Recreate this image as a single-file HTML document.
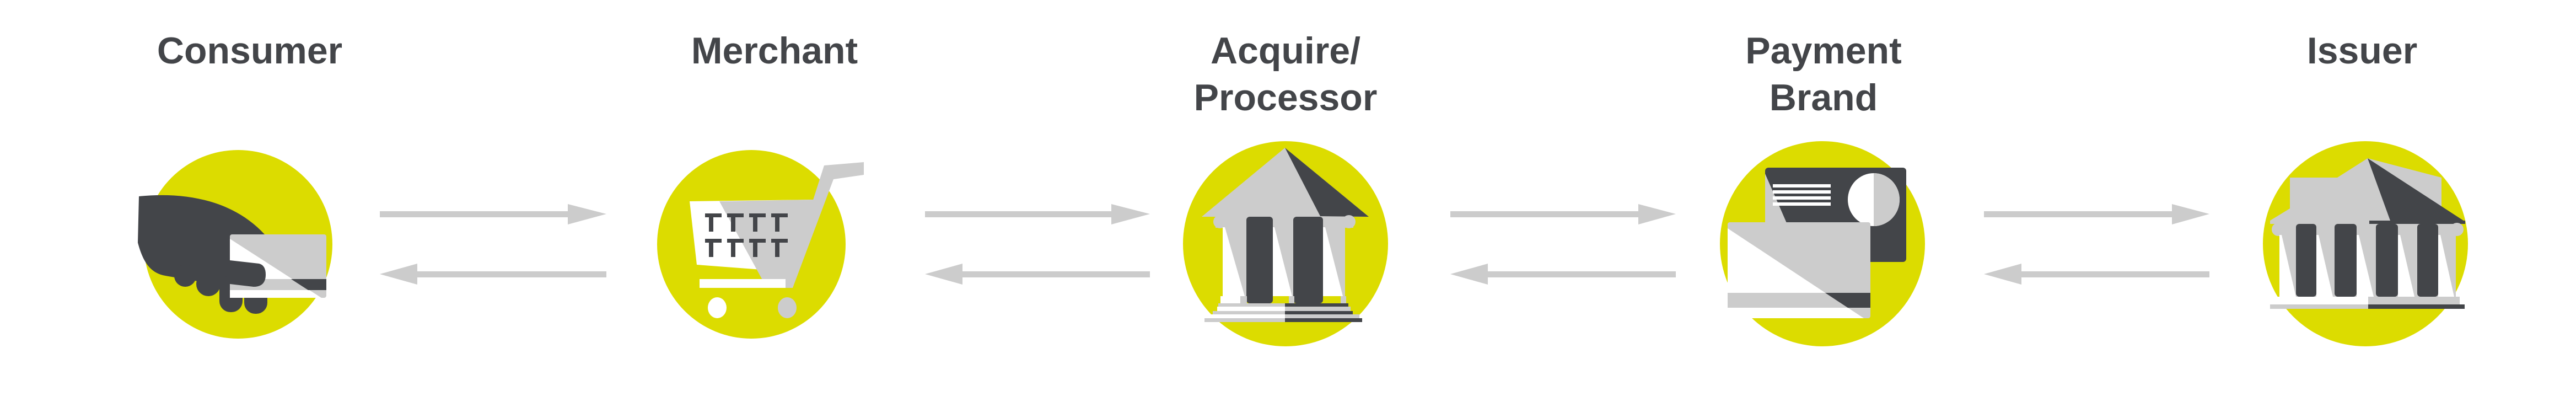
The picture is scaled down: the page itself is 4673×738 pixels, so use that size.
<!DOCTYPE html>
<html><head><meta charset="utf-8"><style>
html,body{margin:0;padding:0;background:#fff;}
svg{display:block;}
text{font-family:"Liberation Sans",sans-serif;font-weight:bold;fill:#434549;font-size:68px;text-anchor:middle;}
</style></head><body>
<svg width="4673" height="738" viewBox="0 0 4673 738" xmlns="http://www.w3.org/2000/svg">
<text x="453" y="115">Consumer</text>
<text x="1405" y="115">Merchant</text>
<text x="2332" y="115">Acquire/</text>
<text x="2332" y="200">Processor</text>
<text x="3308" y="115">Payment</text>
<text x="3308" y="200">Brand</text>
<text x="4285" y="115">Issuer</text>

<!-- arrows -->
<g fill="#cccccc">
<rect x="689" y="383" width="345" height="11"/><polygon points="1030,370 1100,388 1030,407"/>
<rect x="757" y="492" width="343" height="11"/><polygon points="757,478 689,497 757,516"/>
<rect x="1678" y="383" width="340" height="11"/><polygon points="2016,370 2086,388 2016,407"/>
<rect x="1746" y="492" width="340" height="11"/><polygon points="1746,478 1678,497 1746,516"/>
<rect x="2631" y="383" width="343" height="11"/><polygon points="2972,370 3040,388 2972,407"/>
<rect x="2699" y="492" width="341" height="11"/><polygon points="2699,478 2631,497 2699,516"/>
<rect x="3599" y="383" width="343" height="11"/><polygon points="3940,370 4008,388 3940,407"/>
<rect x="3667" y="492" width="341" height="11"/><polygon points="3667,478 3599,497 3667,516"/>
</g>

<!-- circles -->
<g fill="#dcdc00">
<circle cx="432" cy="443" r="171"/>
<circle cx="1363" cy="443" r="171"/>
<circle cx="2332" cy="442" r="186"/>
<circle cx="3306" cy="442" r="186"/>
<circle cx="4291" cy="442" r="186"/>
</g>

<!-- consumer -->
<g fill="#434549">
<path d="M252,356 C330,348 420,360 480,425 L480,470 L417,470 L417,515 C380,515 330,505 300,500 C270,495 258,470 250,440 Z"/>
<circle cx="336" cy="500" r="20"/>
<circle cx="378" cy="515" r="22"/>
<rect x="398" y="500" width="42" height="66" rx="20"/>
<rect x="443" y="505" width="42" height="64" rx="20"/>
</g>
<rect x="417" y="425" width="175" height="115" rx="4" fill="#cccccc"/>
<polygon points="417,433 583,540 417,540" fill="#fff"/>
<rect x="417" y="506" width="175" height="20" fill="#cccccc"/>
<polygon points="528,506 592,506 592,526 559,526" fill="#434549"/>
<path d="M417,472 L470,478 Q482,481 482,498 Q482,520 460,520 L417,515 Z" fill="#434549"/>

<!-- merchant -->
<polygon points="1251,365 1476,362 1420,492 1264,480" fill="#fff"/>
<polygon points="1305,365 1476,362 1428,522 1391,522" fill="#cccccc"/>
<polygon points="1495,300 1567,294 1567,317 1512,325 1438,522 1424,522" fill="#cccccc"/>
<rect x="1269" y="506" width="156" height="16" fill="#fff"/>
<g fill="#434549">
<g id="cell"><rect x="1279" y="387" width="30" height="7"/><rect x="1286" y="387" width="8" height="33"/></g>
<use href="#cell" x="40"/><use href="#cell" x="80"/><use href="#cell" x="120"/>
<use href="#cell" y="46"/><use href="#cell" x="40" y="46"/><use href="#cell" x="80" y="46"/><use href="#cell" x="120" y="46"/>
</g>
<ellipse cx="1301" cy="558" rx="17" ry="19" fill="#fff"/>
<ellipse cx="1428" cy="558" rx="17" ry="19" fill="#cccccc"/>

<!-- acquirer -->
<polygon points="2180,393 2331,268 2483,393" fill="#cccccc"/>
<polygon points="2331,268 2483,393 2395,392" fill="#434549"/>
<rect x="2205" y="393" width="250" height="20" fill="#cccccc"/>
<g fill="#cccccc"><circle cx="2213" cy="402" r="12"/><circle cx="2447" cy="402" r="12"/></g>
<rect x="2218" y="412" width="222" height="125" fill="#cccccc"/>
<polygon points="2218,412 2222,412 2258,537 2218,537" fill="#fff"/>
<polygon points="2308,412 2312,412 2344,537 2308,537" fill="#fff"/>
<polygon points="2400,412 2404,412 2436,537 2400,537" fill="#fff"/>
<rect x="2261" y="393" width="48" height="157" rx="6" fill="#434549"/>
<rect x="2346" y="393" width="54" height="157" rx="6" fill="#434549"/>
<rect x="2214" y="537" width="40" height="13" fill="#fff"/>
<rect x="2250" y="537" width="12" height="13" fill="#cccccc"/>
<rect x="2338" y="537" width="10" height="13" fill="#cccccc"/>
<rect x="2432" y="537" width="10" height="13" fill="#cccccc"/>
<rect x="2210" y="550" width="121" height="6" fill="#cccccc"/><rect x="2331" y="550" width="115" height="6" fill="#434549"/>
<rect x="2208" y="556" width="123" height="8" fill="#fff"/><rect x="2331" y="556" width="119" height="8" fill="#cccccc"/>
<rect x="2200" y="564" width="131" height="6" fill="#cccccc"/><rect x="2331" y="564" width="123" height="6" fill="#434549"/>
<rect x="2196" y="570" width="135" height="7" fill="#fff"/><rect x="2331" y="570" width="135" height="7" fill="#cccccc"/>
<rect x="2185" y="577" width="146" height="7" fill="#cccccc"/><rect x="2331" y="577" width="140" height="7" fill="#434549"/>

<!-- payment brand -->
<rect x="3202" y="304" width="256" height="171" rx="6" fill="#434549"/>
<polygon points="3202,315 3272,475 3202,475" fill="#cccccc"/>
<g fill="#fff"><rect x="3216" y="334" width="105" height="6"/><rect x="3216" y="345" width="105" height="6"/><rect x="3216" y="356" width="105" height="6"/><rect x="3216" y="367" width="105" height="6"/></g>
<ellipse cx="3399" cy="362" rx="47" ry="48" fill="#fff"/>
<path d="M3399,314 A47,48 0 0 1 3399,410 Z" fill="#cccccc"/>
<rect x="3134" y="403" width="259" height="174" rx="4" fill="#cccccc"/>
<polygon points="3134,414 3381,577 3134,577" fill="#fff"/>
<rect x="3134" y="531" width="259" height="27" fill="#cccccc"/>
<polygon points="3311,531 3393,531 3393,558 3352,558" fill="#434549"/>

<!-- issuer -->
<polygon points="4118,400 4154,378 4154,322 4240,322 4295,287 4429,322 4429,400" fill="#cccccc"/>
<polygon points="4295,287 4472,402 4336,400" fill="#434549"/>
<rect x="4118" y="400" width="180" height="6" fill="#cccccc"/>
<rect x="4298" y="400" width="174" height="6" fill="#434549"/>
<rect x="4135" y="406" width="320" height="132" fill="#cccccc"/>
<g fill="#cccccc"><circle cx="4133" cy="416" r="12"/><circle cx="4457" cy="416" r="12"/></g>
<g fill="#fff">
<polygon points="4135,426 4139,426 4165,538 4135,538"/>
<polygon points="4202,426 4206,426 4232,538 4202,538"/>
<polygon points="4275,426 4279,426 4306,538 4275,538"/>
<polygon points="4350,426 4354,426 4380,538 4350,538"/>
<polygon points="4423,426 4427,426 4452,538 4423,538"/>
</g>
<g fill="#434549">
<rect x="4165" y="406" width="37" height="132" rx="6"/><rect x="4235" y="406" width="40" height="132" rx="6"/>
<rect x="4310" y="406" width="40" height="132" rx="6"/><rect x="4385" y="406" width="38" height="132" rx="6"/>
</g>
<rect x="4130" y="538" width="166" height="14" fill="#fff"/>
<rect x="4296" y="538" width="166" height="14" fill="#cccccc"/>
<rect x="4118" y="552" width="178" height="8" fill="#cccccc"/>
<rect x="4296" y="552" width="175" height="8" fill="#434549"/>
</svg>
</body></html>
